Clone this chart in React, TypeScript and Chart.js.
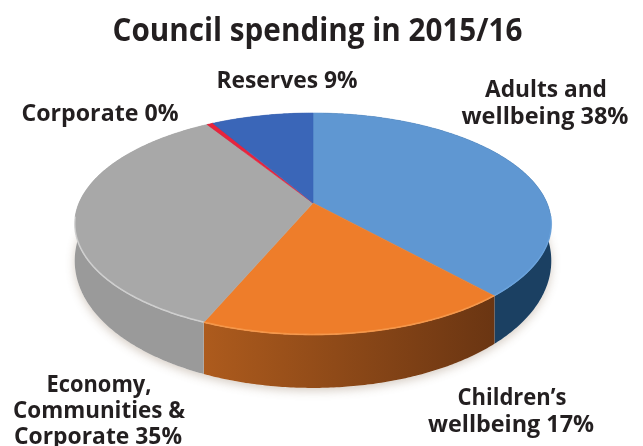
import React, { useEffect, useRef } from "react";
import { Chart, registerables } from "chart.js";

Chart.register(...registerables);

// ---- data ----
const titleText = "Council spending in 2015/16";
const categories = ["Adults and wellbeing", "Children's wellbeing", "Economy, Communities & Corporate", "Corporate", "Reserves"];
const seriesValues = [38.4, 17.9, 34.9, 0.5, 8.3];
const labelLines = [
  ["Adults and", "wellbeing 38%"],
  ["Children\u2019s", "wellbeing 17%"],
  ["Economy,", "Communities &", "Corporate 35%"],
  ["Corporate 0%"],
  ["Reserves 9%"],
];
const topColors = ["#5f97d2", "#ee7d2a", "#a8a8a8", "#e8243c", "#3a66b8"];
const wallLeft = ["#1f4a70", "#ad5b1d", "#9a9a9a", "#b01830", "#2a4c90"];
const wallRight = ["#1b4062", "#6a3512", "#7c7c7c", "#901020", "#22407c"];

// where each label line sits: centre x, baseline y, fitted width
const labelPlace = [
  [[546, 97, 122], [545, 124, 167]],
  [[512, 405, 109], [511, 432, 166]],
  [[99, 392, 105], [99, 418, 172], [98, 444, 168]],
  [[100, 121, 157]],
  [[287, 88, 141]],
];

// perspective view of the disc
const APEX = { x: 313, y: 203 };
const RX = 234, RY = 107, K = 0.189;

function rim(a: number, drop = 0) {
  const X = Math.cos(a), Y = Math.sin(a);
  const w = 1 - K * Y;
  const d = drop ? drop + 20 * Math.max(Y, 0) : 0;
  return { x: APEX.x + (RX * X) / w, y: APEX.y + (RY * Y) / w + d };
}

const pie3d = {
  id: "pie3d",
  beforeDatasetsDraw(chart: any) {
    const { ctx } = chart;
    const arcs = chart.getDatasetMeta(0).data;
    const angle = (el: any) => el.getProps(["startAngle", "endAngle"], true);
    const steps = (s: number, e: number) => Math.max(2, Math.ceil((e - s) / 0.01));

    // soft ground shadow
    ctx.save();
    ctx.shadowColor = "rgba(120,90,60,0.3)";
    ctx.shadowBlur = 10;
    ctx.shadowOffsetY = 3;
    ctx.fillStyle = "#fff";
    ctx.beginPath();
    for (let i = 0; i <= 240; i++) {
      const p = rim((i / 240) * Math.PI * 2, 33);
      i ? ctx.lineTo(p.x, p.y) : ctx.moveTo(p.x, p.y);
    }
    ctx.closePath();
    ctx.fill();
    ctx.restore();

    // walls
    arcs.forEach((el: any, i: number) => {
      const { startAngle: s, endAngle: e } = angle(el);
      const n = steps(s, e);
      const a = rim(s), b = rim(e);
      const minX = Math.min(a.x, b.x), maxX = Math.max(a.x, b.x);
      const g = ctx.createLinearGradient(minX, 0, maxX + 1, 0);
      g.addColorStop(0, wallLeft[i]);
      g.addColorStop(1, wallRight[i]);
      ctx.beginPath();
      for (let k = 0; k <= n; k++) {
        const p = rim(s + ((e - s) * k) / n);
        k ? ctx.lineTo(p.x, p.y) : ctx.moveTo(p.x, p.y);
      }
      for (let k = n; k >= 0; k--) {
        const p = rim(s + ((e - s) * k) / n, 33);
        ctx.lineTo(p.x, p.y);
      }
      ctx.closePath();
      ctx.fillStyle = g;
      ctx.fill();
    });

    // top face
    arcs.forEach((el: any, i: number) => {
      const { startAngle: s, endAngle: e } = angle(el);
      const n = steps(s, e);
      ctx.beginPath();
      ctx.moveTo(APEX.x, APEX.y);
      for (let k = 0; k <= n; k++) {
        const p = rim(s + ((e - s) * k) / n);
        ctx.lineTo(p.x, p.y);
      }
      ctx.closePath();
      ctx.fillStyle = topColors[i];
      ctx.fill();
      ctx.strokeStyle = topColors[i];
      ctx.lineWidth = 0.6;
      ctx.stroke();
    });

    // bevel highlight along the front rim only
    const frontLight = ["rgba(110,170,230,0.5)", "rgba(250,165,90,0.6)", "rgba(235,235,235,0.55)", "", ""];
    arcs.forEach((el: any, i: number) => {
      if (!frontLight[i]) return;
      const { startAngle: s, endAngle: e } = angle(el);
      const n = steps(s, e);
      let open = false;
      ctx.beginPath();
      for (let k = 0; k <= n; k++) {
        const a = s + ((e - s) * k) / n;
        if (Math.sin(a) < 0.12) continue;
        const p = rim(a);
        open ? ctx.lineTo(p.x, p.y - 0.5) : ctx.moveTo(p.x, p.y - 0.5);
        open = true;
      }
      ctx.strokeStyle = frontLight[i];
      ctx.lineWidth = 1.6;
      ctx.stroke();
    });

    return false;
  },
  afterDraw(chart: any) {
    const { ctx } = chart;
    ctx.save();
    ctx.fillStyle = "#231f20";
    ctx.textAlign = "center";
    ctx.textBaseline = "alphabetic";
    ctx.font = "700 32px 'Open Sans'";
    ctx.fillText(titleText, 317.5, 41, 410);
    ctx.font = "700 24px 'Open Sans'";
    labelLines.forEach((lines, i) =>
      lines.forEach((line, j) => {
        const [x, y, w] = labelPlace[i][j];
        ctx.fillText(line, x, y, w);
      })
    );
    ctx.restore();
  },
};

export default function App() {
  const ref = useRef<HTMLCanvasElement>(null);
  useEffect(() => {
    document.body.style.margin = "0";
    const chart = new Chart(ref.current!, {
      type: "pie",
      data: {
        labels: categories,
        datasets: [{ data: seriesValues, backgroundColor: topColors, borderWidth: 0 }],
      },
      options: {
        animation: false,
        responsive: false,
        plugins: {
          legend: { display: false },
          tooltip: { enabled: false },
          title: { display: false, text: titleText },
        },
      },
      plugins: [pie3d],
    } as any);
    return () => chart.destroy();
  }, []);
  return (
    <div style={{ width: 643, height: 446, background: "#fff" }}>
      <canvas ref={ref} width={643} height={446} style={{ display: "block" }} />
    </div>
  );
}
